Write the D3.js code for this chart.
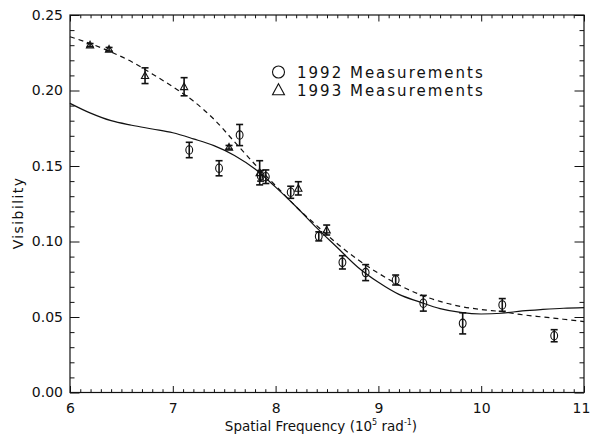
<!DOCTYPE html>
<html><head><meta charset="utf-8">
<script src="https://cdn.jsdelivr.net/npm/d3@7"></script>
<style>
html,body{margin:0;padding:0;background:#fff;}
svg text{font-family:"DejaVu Sans",sans-serif;fill:#111;}
</style></head>
<body><svg id="c" width="591" height="436"></svg>
<script>
// 1992 measurements: spatial frequency, visibility, error
const freq1992 = [7.16, 7.45, 7.65, 7.855, 7.905, 8.147, 8.42, 8.65, 8.876, 9.168, 9.437, 9.82, 10.205, 10.71];
const vis1992  = [0.1606, 0.1485, 0.1705, 0.1435, 0.1429, 0.1326, 0.1034, 0.0862, 0.0794, 0.0745, 0.0591, 0.0458, 0.0580, 0.0376];
const err1992  = [0.0051, 0.0050, 0.0070, 0.0035, 0.0045, 0.0040, 0.0030, 0.0044, 0.0053, 0.0033, 0.0052, 0.0070, 0.0042, 0.0040];
// 1993 measurements
const freq1993 = [6.195, 6.38, 6.73, 7.11, 7.547, 7.845, 8.221, 8.497];
const vis1993  = [0.2301, 0.2273, 0.2098, 0.2025, 0.1624, 0.1455, 0.1352, 0.1076];
const err1993  = [0.0010, 0.0012, 0.0052, 0.0060, 0.0012, 0.0080, 0.0044, 0.0033];
// model curves
const fitX      = [6.0, 6.2, 6.4, 6.6, 6.8, 7.0, 7.2, 7.4, 7.6, 7.8, 8.0, 8.2, 8.4, 8.6, 8.8, 9.0, 9.2, 9.4, 9.6, 9.8, 10.0, 10.2, 10.4, 10.6, 10.8, 11.0];
const fitSolid  = [0.1915, 0.185, 0.180, 0.177, 0.1745, 0.172, 0.168, 0.1635, 0.157, 0.148, 0.136, 0.123, 0.109, 0.096, 0.083, 0.073, 0.065, 0.060, 0.0555, 0.053, 0.052, 0.0525, 0.054, 0.055, 0.0558, 0.0562];
const fitDashed = [0.2356, 0.231, 0.2255, 0.219, 0.211, 0.2025, 0.193, 0.181, 0.166, 0.151, 0.137, 0.123, 0.1105, 0.0985, 0.088, 0.079, 0.0712, 0.065, 0.0603, 0.057, 0.055, 0.0535, 0.0515, 0.050, 0.0485, 0.047];
const xTicks = [6, 7, 8, 9, 10, 11];
const yTicks = [0.00, 0.05, 0.10, 0.15, 0.20, 0.25];
const legendLabels = ["1992 Measurements", "1993 Measurements"];

const svg = d3.select("#c");
const L = 70, R = 584, T = 15, B = 392.5;
const x = d3.scaleLinear().domain([6, 11]).range([L, R]);
const y = d3.scaleLinear().domain([0, 0.25]).range([B, T]);

const xMinor = d3.range(60, 111).map(d => d / 10).filter(v => !xTicks.includes(v));
const yMinor = d3.range(0, 26).map(d => d / 100).filter(v => !yTicks.some(t => Math.abs(t - v) < 1e-9));

function styleAxis(g){ g.select(".domain").remove(); g.selectAll("line").attr("stroke","#111").attr("stroke-width",1); g.selectAll("text").attr("font-size",14).attr("fill","#111"); }

// bottom
svg.append("g").attr("transform",`translate(0,${B})`)
  .call(d3.axisBottom(x).tickValues(xTicks).tickSizeInner(-6.5).tickSizeOuter(0).tickPadding(11).tickFormat(d3.format("d")))
  .call(styleAxis)
  .call(g => g.selectAll(".tick").filter(d => d === 11).select("text").attr("dx", -3));
svg.append("g").attr("transform",`translate(0,${B})`)
  .call(d3.axisBottom(x).tickValues(xMinor).tickSizeInner(-3.3).tickSizeOuter(0).tickFormat(""))
  .call(styleAxis);
// top
svg.append("g").attr("transform",`translate(0,${T})`)
  .call(d3.axisTop(x).tickValues(xTicks).tickSizeInner(-6.5).tickSizeOuter(0).tickFormat(""))
  .call(styleAxis);
svg.append("g").attr("transform",`translate(0,${T})`)
  .call(d3.axisTop(x).tickValues(xMinor).tickSizeInner(-3.3).tickSizeOuter(0).tickFormat(""))
  .call(styleAxis);
// left
svg.append("g").attr("transform",`translate(${L},0)`)
  .call(d3.axisLeft(y).tickValues(yTicks).tickSizeInner(-9.5).tickSizeOuter(0).tickPadding(7).tickFormat(d3.format(".2f")))
  .call(styleAxis);
svg.append("g").attr("transform",`translate(${L},0)`)
  .call(d3.axisLeft(y).tickValues(yMinor).tickSizeInner(-4.5).tickSizeOuter(0).tickFormat(""))
  .call(styleAxis);
// right
svg.append("g").attr("transform",`translate(${R},0)`)
  .call(d3.axisRight(y).tickValues(yTicks).tickSizeInner(-9.5).tickSizeOuter(0).tickFormat(""))
  .call(styleAxis);
svg.append("g").attr("transform",`translate(${R},0)`)
  .call(d3.axisRight(y).tickValues(yMinor).tickSizeInner(-4.5).tickSizeOuter(0).tickFormat(""))
  .call(styleAxis);

// frame
svg.append("rect").attr("x",L).attr("y",T).attr("width",R-L).attr("height",B-T)
  .attr("fill","none").attr("stroke","#111").attr("stroke-width",1.2);

// curves
const line = d3.line().x(d => x(d[0])).y(d => y(d[1])).curve(d3.curveMonotoneX);
svg.append("path").attr("d", line(fitX.map((v,i)=>[v, fitSolid[i]])))
  .attr("fill","none").attr("stroke","#111").attr("stroke-width",1.2);
svg.append("path").attr("d", line(fitX.map((v,i)=>[v, fitDashed[i]])))
  .attr("fill","none").attr("stroke","#111").attr("stroke-width",1.2).attr("stroke-dasharray","5,4");

// error bars
function errBars(xs, vs, es){
  const g = svg.append("g").attr("stroke","#111").attr("stroke-width",1.6).attr("fill","none");
  xs.forEach((xv,i)=>{
    const cx = x(xv), y0 = y(vs[i]-es[i]), y1 = y(vs[i]+es[i]);
    g.append("line").attr("x1",cx).attr("x2",cx).attr("y1",y0).attr("y2",y1);
    g.append("line").attr("x1",cx-3.5).attr("x2",cx+3.5).attr("y1",y0).attr("y2",y0);
    g.append("line").attr("x1",cx-3.5).attr("x2",cx+3.5).attr("y1",y1).attr("y2",y1);
  });
}
errBars(freq1993, vis1993, err1993);
errBars(freq1992, vis1992, err1992);

// markers
const tri = (cx, cy, s) => `M${cx},${cy - s} L${cx + s*0.95},${cy + s*0.75} L${cx - s*0.95},${cy + s*0.75} Z`;
svg.append("g").selectAll("path").data(freq1993).join("path")
  .attr("d",(d,i)=>tri(x(d), y(vis1993[i]), 3.8))
  .attr("fill","none").attr("stroke","#111").attr("stroke-width",1.1);
svg.append("g").selectAll("ellipse").data(freq1992).join("ellipse")
  .attr("cx",d=>x(d)).attr("cy",(d,i)=>y(vis1992[i])).attr("rx",3.4).attr("ry",4.2)
  .attr("fill","none").attr("stroke","#111").attr("stroke-width",1.1);

// legend
const lg = svg.append("g");
lg.append("circle").attr("cx",278.5).attr("cy",72).attr("r",6).attr("fill","none").attr("stroke","#111").attr("stroke-width",1.1);
lg.append("path").attr("d",tri(278.5,90,6.3)).attr("fill","none").attr("stroke","#111").attr("stroke-width",1.1);
legendLabels.forEach((t,i)=>{
  lg.append("text").attr("x",297).attr("y",78.3 + i*17.5).attr("font-size",15)
    .attr("letter-spacing","2px").text(t);
});

// axis titles
const xt = svg.append("text").attr("x",(L+R)/2 - 6).attr("y",431).attr("text-anchor","middle").attr("font-size",13.5);
xt.append("tspan").text("Spatial Frequency (10");
xt.append("tspan").attr("font-size",8).attr("dy",-6).text("5");
xt.append("tspan").attr("dy",6).text(" rad");
xt.append("tspan").attr("font-size",8).attr("dy",-6).text("-1");
xt.append("tspan").attr("dy",6).text(")");

svg.append("text").attr("transform","translate(23,213) rotate(-90)").attr("text-anchor","middle")
  .attr("font-size",14).attr("letter-spacing","1.4px").text("Visibility");
</script></body></html>
